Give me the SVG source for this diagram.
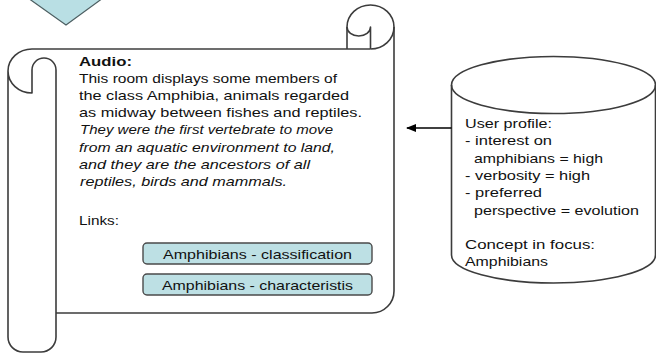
<svg xmlns="http://www.w3.org/2000/svg" width="656" height="354" viewBox="0 0 656 354">
<style>
.ln{fill:none;stroke:#3c3c3c;stroke-width:1.6;stroke-linejoin:round}
.t{font-family:"Liberation Sans",Arial,sans-serif;font-size:13px;fill:#111}
.c{font-family:"Liberation Sans",Arial,sans-serif;font-size:13.5px;fill:#111}
.b{font-weight:bold}
.i{font-style:italic}
.btn{fill:#bde0e4;stroke:#4a4a4a;stroke-width:1.4}
</style>
<defs>
<marker id="ah" markerWidth="10" markerHeight="8" refX="9" refY="4" orient="auto" markerUnits="userSpaceOnUse">
<path d="M0,0 L10,4 L0,8 Z" fill="#000"/>
</marker>
</defs>
<rect width="656" height="354" fill="#fff"/>

<g id="chevron">
<polygon points="28,-2 103,-2 66,25" fill="#b9dfe4" stroke="#4d5f62" stroke-width="1.2"/>
</g>

<g id="scroll">
<path d="M32,49 H370.5 A23.5,22 0 0 1 394,27 V291 A22,22 0 0 1 372,313 H56 V337 A15,15 0 0 1 41,352 H23 A15,15 0 0 1 8,337 V71 A24,22 0 0 1 32,49 Z" fill="#fff"/>
<path class="ln" d="M32,49 H370.5"/>
<path class="ln" d="M32,49 A24,22 0 0 0 8,71 A24,22 0 0 0 32,93 V70 A12,12 0 0 1 56,70 V337 A15,15 0 0 1 41,352 H23 A15,15 0 0 1 8,337 V71"/>
<path class="ln" d="M347,49 V27 A23.5,22 0 0 1 394,27 A23.5,22 0 0 1 370.5,49"/>
<path class="ln" d="M347,27 A11.75,9 0 0 0 370.5,27 V49"/>
<path class="ln" d="M394,27 V291 A22,22 0 0 1 372,313 H56"/>
<text class="t b" x="79" y="65.5" textLength="53" lengthAdjust="spacingAndGlyphs">Audio:</text>
<text class="t" x="79" y="82.7" textLength="258" lengthAdjust="spacingAndGlyphs">This room displays some members of</text>
<text class="t" x="79" y="99.9" textLength="270" lengthAdjust="spacingAndGlyphs">the class Amphibia, animals regarded</text>
<text class="t" x="79" y="117.1" textLength="283" lengthAdjust="spacingAndGlyphs">as midway between fishes and reptiles.</text>
<text class="t i" x="80" y="134.3" textLength="253" lengthAdjust="spacingAndGlyphs">They were the first vertebrate to move</text>
<text class="t i" x="79" y="151.5" textLength="256" lengthAdjust="spacingAndGlyphs">from an aquatic environment to land,</text>
<text class="t i" x="79" y="168.7" textLength="231" lengthAdjust="spacingAndGlyphs">and they are the ancestors of all</text>
<text class="t i" x="80" y="185.9" textLength="207" lengthAdjust="spacingAndGlyphs">reptiles, birds and mammals.</text>
<text class="t" x="79" y="224.5" textLength="40" lengthAdjust="spacingAndGlyphs">Links:</text>
</g>

<g id="link-classification">
<rect class="btn" x="143" y="243" width="229" height="21" rx="4"/>
<text class="t" x="163" y="258.5" textLength="189" lengthAdjust="spacingAndGlyphs">Amphibians - classification</text>
</g>
<g id="link-characteristis">
<rect class="btn" x="143" y="274" width="229" height="21" rx="4"/>
<text class="t" x="162" y="289.5" textLength="191" lengthAdjust="spacingAndGlyphs">Amphibians - characteristis</text>
</g>

<g id="user-profile">
<path d="M451.5,85 V255 A102,28 0 0 0 655.5,255 V85" fill="#fff" class="ln"/>
<ellipse cx="553.5" cy="85" rx="102" ry="28.5" fill="#fff" class="ln"/>
<text class="c" x="465" y="128" textLength="87" lengthAdjust="spacingAndGlyphs">User profile:</text>
<text class="c" x="465" y="145.3" textLength="87" lengthAdjust="spacingAndGlyphs">- interest on</text>
<text class="c" x="474" y="162.6" textLength="129" lengthAdjust="spacingAndGlyphs">amphibians = high</text>
<text class="c" x="465" y="179.9" textLength="125" lengthAdjust="spacingAndGlyphs">- verbosity = high</text>
<text class="c" x="465" y="197.2" textLength="77" lengthAdjust="spacingAndGlyphs">- preferred</text>
<text class="c" x="474" y="214.5" textLength="165" lengthAdjust="spacingAndGlyphs">perspective = evolution</text>
<text class="c" x="465" y="249.1" textLength="130" lengthAdjust="spacingAndGlyphs">Concept in focus:</text>
<text class="c" x="465" y="266.4" textLength="83" lengthAdjust="spacingAndGlyphs">Amphibians</text>
</g>

<g id="connectors">
<line x1="451.5" y1="128" x2="407" y2="128" stroke="#000" stroke-width="1.5" marker-end="url(#ah)"/>
</g>
</svg>
